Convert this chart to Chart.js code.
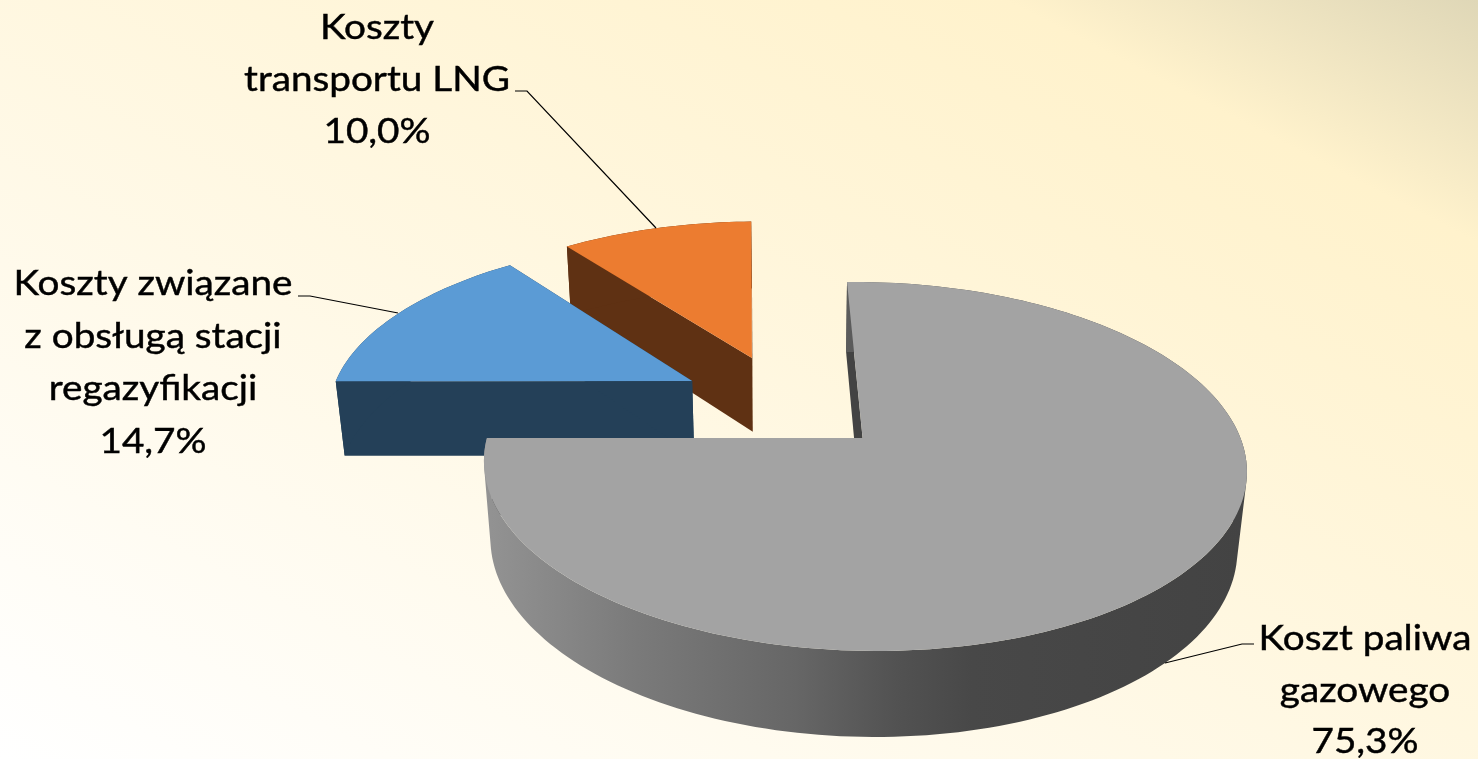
<!DOCTYPE html>
<html lang="pl">
<head>
<meta charset="utf-8">
<title>Struktura kosztów</title>
<style>
  html, body { margin: 0; height: 100%; overflow: hidden; }
  body { background: linear-gradient(to top right, #ffffff 0%, #fff2cc 84%, #dfd7b7 100%); }
  canvas { display: block; }
</style>
<script src="https://cdn.jsdelivr.net/npm/chart.js@4"></script>
</head>
<body>
<canvas id="pieChart" width="1478" height="759"></canvas>
<script>
const categories = [
  ["Koszt paliwa", "gazowego"],
  ["Koszty związane", "z obsługą stacji", "regazyfikacji"],
  ["Koszty", "transportu LNG"],
];
const shares = [75.3, 14.7, 10.0];
const topColors = ["#a3a3a3", "#5b9bd5", "#ec7c30"];
const cutColors = ["#434343", "#244058", "#5f3113"];

// how far every slice is pulled out, as a fraction of the radius
const EXPLODE = 0.29;

// 3x4 projection of (u, v, z) on the pie plane, z = 1 is the underside
const CAMERA = [
  [376.5, 115.3, 810, 16.7],
  [-3.38, -112.4, 415.4, 88.2],
  [0, 0.1545, 1.032, 0.021],
];

// label centre, first baseline, line height, leader line
const LABEL_SPOTS = [
  { x: 1365, y: 650, lh: 51.5, leader: [[1254, 644], [1242, 644], [1165, 663]] },
  { x: 153, y: 295, lh: 52.7, leader: [[298, 296], [310, 296], [398, 313]] },
  { x: 377, y: 39, lh: 52, leader: [[515, 91], [527, 91], [656, 228]] },
];

function project(u, v, z) {
  let [a, b, c] = CAMERA;
  let w = c[0] * u + c[1] * v + c[2] + c[3] * z;
  return [
    (a[0] * u + a[1] * v + a[2] + a[3] * z) / w,
    (b[0] * u + b[1] * v + b[2] + b[3] * z) / w,
  ];
}

// Samples the outer edge of an arc element, in plane coordinates
function rimOf(arc) {
  let mid = (arc.startAngle + arc.endAngle) / 2;
  let ox = EXPLODE * Math.cos(mid);
  let oy = -EXPLODE * Math.sin(mid);
  let steps = Math.ceil((arc.endAngle - arc.startAngle) * 40);
  let rim = [];
  for (let i = 0; i <= steps; i++) {
    let a = arc.startAngle + ((arc.endAngle - arc.startAngle) * i) / steps;
    rim.push([ox + Math.cos(a), oy - Math.sin(a)]);
  }
  return { rim, ox, oy };
}

function tracePath(ctx, pts) {
  pts.forEach((p, i) => (i ? ctx.lineTo(p[0], p[1]) : ctx.moveTo(p[0], p[1])));
  ctx.closePath();
}

function fillPath(ctx, pts, fill) {
  ctx.beginPath();
  tracePath(ctx, pts);
  ctx.fillStyle = fill;
  ctx.fill();
}

function signedArea(pts) {
  let sum = 0;
  pts.forEach((p, i) => {
    let q = pts[(i + 1) % pts.length];
    sum += p[0] * q[1] - q[0] * p[1];
  });
  return sum;
}

function drawSlice(ctx, arc, i) {
  let { rim, ox, oy } = rimOf(arc);
  let first = rim[0];
  let last = rim[rim.length - 1];

  //Cut faces
  [first, last].forEach((p) => {
    fillPath(
      ctx,
      [project(ox, oy, 0), project(p[0], p[1], 0), project(p[0], p[1], 1), project(ox, oy, 1)],
      cutColors[i]
    );
  });

  //Outer wall, the big slice gets its shading from left to right
  let wall = cutColors[i];
  if (i === 0) {
    wall = ctx.createLinearGradient(485, 0, 1246, 0);
    wall.addColorStop(0, "#939393");
    wall.addColorStop(0.2, "#7a7a7a");
    wall.addColorStop(0.41, "#666666");
    wall.addColorStop(0.54, "#525252");
    wall.addColorStop(0.64, "#484848");
    wall.addColorStop(1, "#434343");
  }
  // one path of same-wound quads, so the strips where the wall turns away don't cancel out
  ctx.beginPath();
  for (let n = 0; n < rim.length - 1; n++) {
    let quad = [
      project(rim[n][0], rim[n][1], 0),
      project(rim[n + 1][0], rim[n + 1][1], 0),
      project(rim[n + 1][0], rim[n + 1][1], 1),
      project(rim[n][0], rim[n][1], 1),
    ];
    if (signedArea(quad) < 0) quad.reverse();
    tracePath(ctx, quad);
  }
  ctx.fillStyle = wall;
  ctx.fill();

  //Top face
  let topRim = rim.map((p) => project(p[0], p[1], 0));
  fillPath(ctx, [project(ox, oy, 0)].concat(topRim), topColors[i]);
}

const pie3d = {
  id: "pie3d",
  beforeDatasetDraw(chart, args) {
    let ctx = chart.ctx;
    let arcs = args.meta.data;
    ctx.save();
    // back slices first
    for (let i = arcs.length - 1; i >= 0; i--) {
      drawSlice(ctx, arcs[i], i);
    }
    ctx.restore();
    return false;
  },
  afterDatasetsDraw(chart) {
    let ctx = chart.ctx;
    ctx.save();
    ctx.fillStyle = "#000000";
    ctx.strokeStyle = "#000000";
    categories.forEach((lines, i) => {
      let spot = LABEL_SPOTS[i];
      let text = lines.concat(shares[i].toFixed(1).replace(".", ",") + "%");
      text.forEach((line, n) => {
        // the label type runs a little wide and heavy
        ctx.save();
        ctx.translate(spot.x, spot.y + n * spot.lh);
        ctx.scale(1.105, 1);
        ctx.font = "35px Lato";
        ctx.textAlign = "center";
        ctx.textBaseline = "alphabetic";
        ctx.lineWidth = 0.45;
        ctx.fillText(line, 0, 0);
        ctx.strokeText(line, 0, 0);
        ctx.restore();
      });
      ctx.lineWidth = 1.2;
      ctx.beginPath();
      spot.leader.forEach((p, n) => (n ? ctx.lineTo(p[0], p[1]) : ctx.moveTo(p[0], p[1])));
      ctx.stroke();
    });
    ctx.restore();
  },
};

new Chart(document.getElementById("pieChart"), {
  type: "pie",
  plugins: [pie3d],
  data: {
    labels: categories.map((c) => c.join(" ")),
    datasets: [{ data: shares, backgroundColor: topColors }],
  },
  options: {
    responsive: false,
    animation: false,
    plugins: { legend: { display: false }, tooltip: { enabled: false } },
  },
});
</script>
</body>
</html>
